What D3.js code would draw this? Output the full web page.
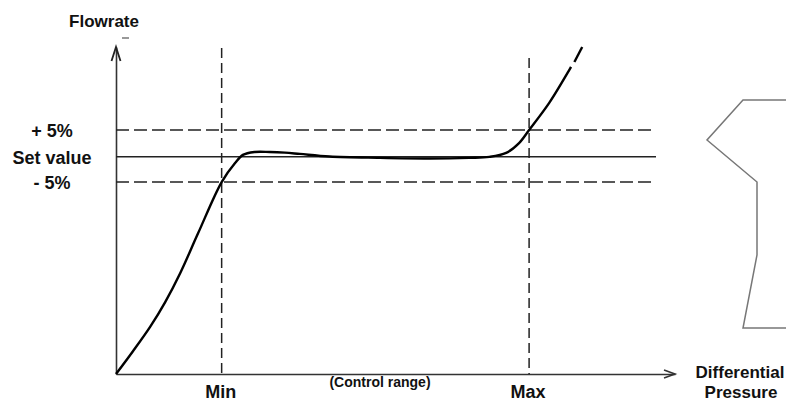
<!DOCTYPE html>
<html>
<head>
<meta charset="utf-8">
<script src="https://cdn.jsdelivr.net/npm/d3@7"></script>
<style>
  body { margin: 0; background: #fff; }
  svg { display: block; font-family: "Liberation Sans", Arial, sans-serif; }
  .lbl { font-weight: bold; fill: #111; }
</style>
</head>
<body>
<div class="container"></div>
<script>
const width = 786,
    height = 403;

// curve: differential pressure (x) vs flowrate (y), arbitrary units
const pressure = [0, 3, 6.1, 8.8, 11.5, 14.7, 18.9, 21.3, 22.7, 24.8, 27.5, 30.2, 32.9, 38.2, 47.1, 56.1, 63.2, 66.8, 69.8, 72.1, 73.9, 77.5, 81.1, 81.4];
const flow     = [0, 6.9, 14.4, 22, 30.9, 43.1, 58.7, 64.5, 67, 67.9, 67.9, 67.7, 67.3, 66.5, 66.1, 65.9, 66.1, 66.4, 67.6, 70.6, 74.6, 82.9, 93, 93.9];
const tailPressure = [82.0, 83.4];
const tailFlow     = [95.4, 100];

const setValue = 66.4,
    upperLimit = 74.6,
    lowerLimit = 58.7;
const minPressure = 18.9,
    maxPressure = 73.9;
const levelNames = ["+ 5%", "Set value", "- 5%"];
const rangeNames = ["Min", "Max"];

const svg = d3.select('.container')
    .append('svg')
    .attr('width', width)
    .attr('height', height);

const xScale = d3.scaleLinear().domain([0, 100]).range([116, 675]);
const yScale = d3.scaleLinear().domain([0, 100]).range([374, 47]);

const ink = '#222';

// axes (line only, no ticks)
const xAxis = svg.append('g')
    .attr('transform', `translate(0, ${yScale(0)})`)
    .call(d3.axisBottom(xScale).tickValues([]).tickSizeOuter(0));
const yAxis = svg.append('g')
    .attr('transform', `translate(${xScale(0)}, 0)`)
    .call(d3.axisLeft(yScale).tickValues([]).tickSizeOuter(0));
[xAxis, yAxis].forEach(a => a.select('.domain').attr('stroke', '#333').attr('stroke-width', 1.6));

// arrow heads
const ax = xScale(100), ay = yScale(0);
svg.append('path')
    .attr('d', `M${ax - 11},${ay - 4}L${ax},${ay}L${ax - 11},${ay + 4}`)
    .attr('fill', 'none').attr('stroke', '#333').attr('stroke-width', 1.6);
const tx = xScale(0), ty = yScale(100);
svg.append('path')
    .attr('d', `M${tx - 4.5},${ty + 14}L${tx},${ty}L${tx + 4.5},${ty + 14}`)
    .attr('fill', 'none').attr('stroke', '#222').attr('stroke-width', 1.8);

// horizontal levels
const levels = [upperLimit, setValue, lowerLimit];
svg.selectAll('.level')
    .data(levels)
    .enter()
    .append('line')
    .attr('class', 'level')
    .attr('x1', xScale(0))
    .attr('x2', xScale(96.6))
    .attr('y1', d => yScale(d))
    .attr('y2', d => yScale(d))
    .attr('stroke', ink)
    .attr('stroke-width', 1.5)
    .attr('stroke-dasharray', (d, i) => i === 1 ? null : '13,5');

// min / max verticals
const rangeTops = [99.7, 96.6];
svg.selectAll('.range')
    .data([minPressure, maxPressure])
    .enter()
    .append('line')
    .attr('class', 'range')
    .attr('x1', d => xScale(d))
    .attr('x2', d => xScale(d))
    .attr('y1', (d, i) => yScale(rangeTops[i]))
    .attr('y2', yScale(0))
    .attr('stroke', ink)
    .attr('stroke-width', 1.5)
    .attr('stroke-dasharray', '10,5');

// curve
const line = d3.line()
    .x(d => xScale(d[0]))
    .y(d => yScale(d[1]))
    .curve(d3.curveCatmullRom.alpha(0.5));

svg.append('path')
    .datum(d3.zip(pressure, flow))
    .attr('d', line)
    .attr('fill', 'none')
    .attr('stroke', '#000')
    .attr('stroke-width', 2.4);

svg.append('path')
    .datum(d3.zip(tailPressure, tailFlow))
    .attr('d', line)
    .attr('fill', 'none')
    .attr('stroke', '#000')
    .attr('stroke-width', 2.4);

// labels
svg.append('text').attr('class', 'lbl')
    .attr('x', 104).attr('y', 27)
    .attr('text-anchor', 'middle')
    .style('font-size', '17px')
    .text('Flowrate');
svg.append('line')
    .attr('x1', 122).attr('x2', 129)
    .attr('y1', 38).attr('y2', 38)
    .attr('stroke', '#555').attr('stroke-width', 1.2);

svg.selectAll('.levelName')
    .data(levelNames)
    .enter()
    .append('text')
    .attr('class', 'lbl')
    .attr('x', 52)
    .attr('y', (d, i) => yScale(levels[i]) + 7)
    .attr('text-anchor', 'middle')
    .style('font-size', '18px')
    .text(d => d);

svg.selectAll('.rangeName')
    .data(rangeNames)
    .enter()
    .append('text')
    .attr('class', 'lbl')
    .attr('x', (d, i) => xScale([minPressure, maxPressure][i]) - 1)
    .attr('y', 398)
    .attr('text-anchor', 'middle')
    .style('font-size', '18px')
    .text(d => d);

svg.append('text').attr('class', 'lbl')
    .attr('x', 380).attr('y', 387)
    .attr('text-anchor', 'middle')
    .style('font-size', '14px')
    .text('(Control range)');

svg.append('text').attr('class', 'lbl')
    .attr('x', 740).attr('y', 378)
    .attr('text-anchor', 'middle')
    .style('font-size', '17px')
    .text('Differential');
svg.append('text').attr('class', 'lbl')
    .attr('x', 741).attr('y', 398)
    .attr('text-anchor', 'middle')
    .style('font-size', '17px')
    .text('Pressure');

// side outline shape
const outline = [[786, 100], [743, 100], [707, 140], [757, 182], [757, 255], [743, 328], [786, 328]];
svg.append('path')
    .attr('d', d3.line()(outline))
    .attr('fill', 'none')
    .attr('stroke', '#777')
    .attr('stroke-width', 1.5);
</script>
</body>
</html>
